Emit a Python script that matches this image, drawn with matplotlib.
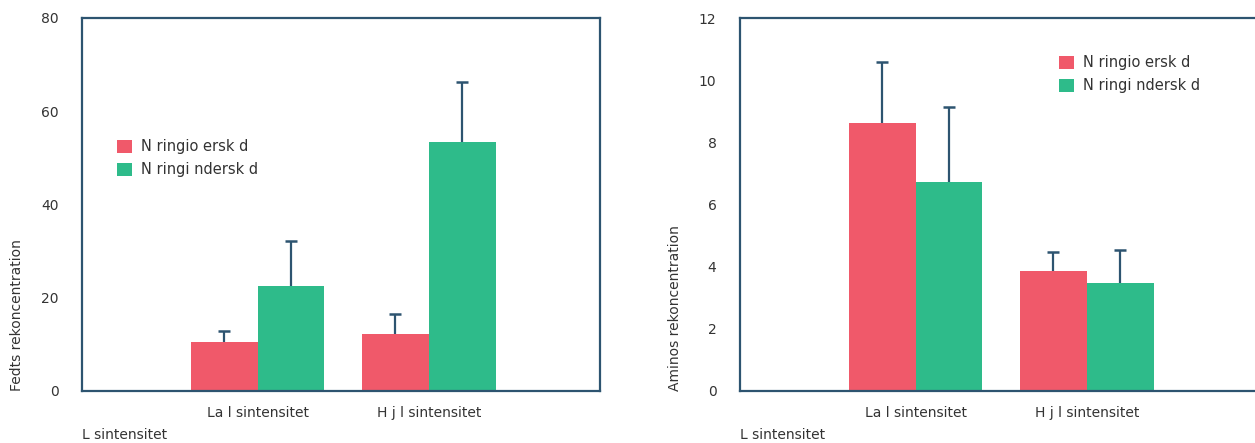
#! /usr/bin/env python3

"""
Grouped bar charts with upper error bars for two concentration measures.
"""

import numpy as np
import matplotlib

matplotlib.use("Agg")
import matplotlib.pyplot as plt

# Chart data
categories = ["La l sintensitet", "H j l sintensitet"]
first_category = "L sintensitet"
series_names = ["N ringio ersk d", "N ringi ndersk d"]

fat_over = [10.5, 12.2]
fat_over_err = [2.4, 4.3]
fat_under = [22.5, 53.4]
fat_under_err = [9.7, 12.9]

amino_over = [8.62, 3.86]
amino_over_err = [1.96, 0.61]
amino_under = [6.72, 3.47]
amino_under_err = [2.42, 1.07]

ylabels = ["Fedts rekoncentration", "Aminos rekoncentration"]
ylims = [80, 12]
yticks = [np.arange(0, 81, 20), np.arange(0, 13, 2)]

RED = "#f0596a"
GREEN = "#2ebb8a"
FRAME = "#2d5470"
TEXT = "#333333"

plt.rcParams["font.family"] = ["DejaVu Sans"]

fig = plt.figure(figsize=(12.55, 4.43), dpi=100)
W, H = 1255, 443
ax_left = fig.add_axes([82 / W, (H - 391) / H, 518 / W, 373 / H])
ax_right = fig.add_axes([740 / W, (H - 391) / H, 518 / W, 373 / H])

panels = [
    (ax_left, fat_over, fat_over_err, fat_under, fat_under_err, (0.068, 0.675)),
    (ax_right, amino_over, amino_over_err, amino_under, amino_under_err, (0.616, 0.9)),
]

width = 0.39
x = np.arange(1, len(categories) + 1)


def upper_errorbars(ax, xpos, values, errors):
    """Draw upper-only error bars with a cap at the top."""
    tops = np.asarray(values) + np.asarray(errors)
    ax.vlines(xpos, values, tops, color=FRAME, linewidth=1.6, zorder=3)
    ax.plot(xpos, tops, linestyle="none", marker="_", markersize=8.6,
            markeredgewidth=1.8, color=FRAME, zorder=3)


for i, (ax, over, over_err, under, under_err, leg_pos) in enumerate(panels):
    ax.bar(x - width / 2, over, width, color=RED, label=series_names[0], zorder=2)
    ax.bar(x + width / 2, under, width, color=GREEN, label=series_names[1], zorder=2)

    upper_errorbars(ax, x - width / 2, over, over_err)
    upper_errorbars(ax, x + width / 2, under, under_err)

    ax.set_xlim(-0.025, 3.0)
    ax.set_ylim(0, ylims[i])
    ax.set_yticks(yticks[i])
    ax.set_xticks(x)
    ax.set_xticklabels(categories)
    ax.tick_params(axis="both", length=0, colors=TEXT, labelsize=10)
    ax.tick_params(axis="y", pad=17)
    ax.tick_params(axis="x", pad=11)

    for spine in ax.spines.values():
        spine.set_color(FRAME)
        spine.set_linewidth(1.6)

    ax.set_ylabel(ylabels[i], loc="bottom", color=TEXT, fontsize=10, labelpad=12)
    ax.text(0.0, -0.118, first_category, transform=ax.transAxes, ha="left",
            va="center", color=TEXT, fontsize=10)

    ax.legend(loc="upper left", bbox_to_anchor=leg_pos, frameon=False,
              borderpad=0, borderaxespad=0, handlelength=1.0, handleheight=1.0,
              handletextpad=0.65, labelspacing=0.55, fontsize=10.5, labelcolor=TEXT)

fig.savefig("out.png", dpi=100)
